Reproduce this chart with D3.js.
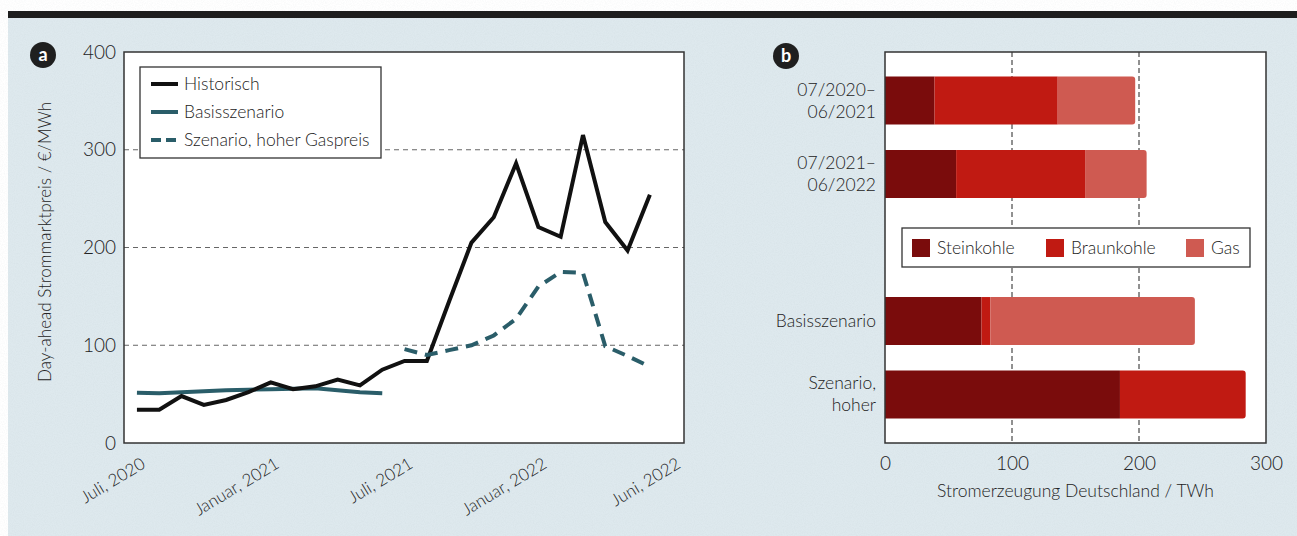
<!DOCTYPE html>
<html>
<head>
<meta charset="utf-8">
<script src="https://cdn.jsdelivr.net/npm/d3@7"></script>
<style>
  body { margin: 0; background: #fff; }
  svg text { font-family: "Lato", "Open Sans", sans-serif; font-weight: 300; fill: #222; }
</style>
</head>
<body>
<div id="chart"></div>
<script>
// Panel a: day-ahead price, monthly from Juli 2020 (index 0) to Juni 2022 (index 23)
const historisch = [34, 34, 48, 39, 44, 52, 62, 55, 58, 65, 59, 75,
                    84, 84, 145, 205, 231, 286, 221, 211, 315, 226, 197, 254]
const basisMonths = [0, 1, 2, 3, 4, 5, 6, 7, 8, 9, 10, 11]
const basisszenario = [51.5, 51, 52, 53, 54, 54.5, 55, 55.5, 56, 54, 52, 51]
const gasMonths = [12, 13, 14, 15, 16, 17, 18, 19, 20, 21, 22, 23]
const hoherGaspreis = [96, 90, 95, 100, 110, 127, 160, 175, 174, 99, 89, 78]
const xTickMonths = [0, 6, 12, 18, 24]
const xTickLabels = ["Juli, 2020", "Januar, 2021", "Juli, 2021", "Januar, 2022", "Juni, 2022"]
const yTicksA = [0, 100, 200, 300, 400]

// Panel b: power generation by source
const categories = [["07/2020–", "06/2021"], ["07/2021–", "06/2022"], ["Basisszenario"], ["Szenario,", "hoher"]]
const steinkohle = [39, 56, 76, 185]
const braunkohle = [97, 102, 7, 99]
const gas = [61, 48, 161, 0]
const sources = ["Steinkohle", "Braunkohle", "Gas"]
const xTicksB = [0, 100, 200, 300]

const colors = { Steinkohle: "#7a0c0c", Braunkohle: "#c01a12", Gas: "#cf5a51" }
const teal = "#2a5d69"

const W = 1297, H = 536

const svg = d3.select("#chart").append("svg")
    .attr("width", W).attr("height", H)

// paper texture
const defs = svg.append("defs")
const f = defs.append("filter").attr("id", "paper")
f.append("feTurbulence").attr("type", "fractalNoise").attr("baseFrequency", 0.9).attr("numOctaves", 2).attr("seed", 3)
f.append("feColorMatrix").attr("type", "matrix")
    .attr("values", "0 0 0 0 0.35  0 0 0 0 0.4  0 0 0 0 0.42  0 0 0 0.3 -0.1")

// background + top bar
svg.append("rect").attr("x", 8).attr("y", 18).attr("width", W - 8).attr("height", H - 18).attr("fill", "#dee9ee")
svg.append("rect").attr("x", 8).attr("y", 18).attr("width", W - 8).attr("height", H - 18)
    .attr("filter", "url(#paper)").attr("opacity", 0.45)
svg.append("rect").attr("x", 8).attr("y", 11).attr("width", W - 8).attr("height", 7).attr("fill", "#1e1e1e")

function badge(cx, cy, letter) {
    svg.append("circle").attr("cx", cx).attr("cy", cy).attr("r", 13).attr("fill", "#1f1f1f")
    svg.append("text").attr("x", cx).attr("y", cy + 6).attr("text-anchor", "middle")
        .style("font-size", "18px").style("font-weight", "bold").style("fill", "#fff").text(letter)
}

// ---------------- Panel a ----------------
const a = { left: 124, right: 684, top: 52, bottom: 443 }
const x = d3.scaleLinear().domain([-0.58, 24.53]).range([a.left, a.right])
const y = d3.scaleLinear().domain([0, 400]).range([a.bottom, a.top])

const ga = svg.append("g").attr("id", "panel-a")
ga.append("rect").attr("x", a.left).attr("y", a.top)
    .attr("width", a.right - a.left).attr("height", a.bottom - a.top).attr("fill", "#fff")

// grid
ga.append("g").selectAll("line").data([100, 200, 300]).enter().append("line")
    .attr("x1", a.left).attr("x2", a.right)
    .attr("y1", d => y(d)).attr("y2", d => y(d))
    .attr("stroke", "#666").attr("stroke-width", 1).attr("stroke-dasharray", "5,4")

// y axis labels
const yAxisA = d3.axisLeft(y).tickValues(yTicksA).tickSize(0).tickPadding(8)
ga.append("g").attr("transform", `translate(${a.left},0)`).call(yAxisA)
    .call(g => g.select(".domain").remove())
    .selectAll("text").style("font-size", "19px").style("font-family", null).attr("fill", null)

// x axis labels (rotated)
const xAxisA = d3.axisBottom(x).tickValues(xTickMonths).tickSize(0).tickFormat((d, i) => xTickLabels[i])
ga.append("g").attr("transform", `translate(0,${a.bottom})`).call(xAxisA)
    .call(g => g.select(".domain").remove())
    .selectAll("text")
    .attr("text-anchor", "end").attr("dy", null).attr("y", 0).attr("x", 0)
    .attr("transform", "translate(9,24) rotate(-31)")
    .style("font-size", "17px").style("font-family", null).attr("fill", null)

// y title
ga.append("text").attr("transform", "translate(51,242) rotate(-90)")
    .attr("text-anchor", "middle").style("font-size", "17px")
    .text("Day-ahead Strommarktpreis / €/MWh")

// lines
const line = d3.line().x(d => x(d[0])).y(d => y(d[1]))
ga.append("path").datum(basisMonths.map((m, i) => [m, basisszenario[i]]))
    .attr("d", line).attr("fill", "none").attr("stroke", teal).attr("stroke-width", 4)
ga.append("path").datum(historisch.map((v, i) => [i, v]))
    .attr("d", line).attr("fill", "none").attr("stroke", "#111").attr("stroke-width", 4)
    .attr("stroke-linejoin", "miter")
ga.append("path").datum(gasMonths.map((m, i) => [m, hoherGaspreis[i]]))
    .attr("d", line).attr("fill", "none").attr("stroke", teal).attr("stroke-width", 4)
    .attr("stroke-dasharray", "13,8")

// frame
ga.append("rect").attr("x", a.left).attr("y", a.top)
    .attr("width", a.right - a.left).attr("height", a.bottom - a.top)
    .attr("fill", "none").attr("stroke", "#333").attr("stroke-width", 1.5)

// legend a
const legA = ga.append("g").attr("transform", "translate(140,67)")
legA.append("rect").attr("width", 241).attr("height", 91).attr("fill", "#fff")
    .attr("stroke", "#333").attr("stroke-width", 1.3)
const legItems = [
    { label: "Historisch", color: "#111", dash: null },
    { label: "Basisszenario", color: teal, dash: null },
    { label: "Szenario, hoher Gaspreis", color: teal, dash: "10,5" }
]
legItems.forEach((d, i) => {
    const yy = 17 + i * 28
    legA.append("line").attr("x1", 11).attr("x2", 38).attr("y1", yy).attr("y2", yy)
        .attr("stroke", d.color).attr("stroke-width", 4).attr("stroke-dasharray", d.dash)
    legA.append("text").attr("x", 44).attr("y", yy + 6).style("font-size", "17.5px").text(d.label)
})

badge(43, 55, "a")

// ---------------- Panel b ----------------
const b = { left: 885, right: 1266, top: 52, bottom: 443 }
const xb = d3.scaleLinear().domain([0, 300]).range([b.left, b.right])
const bandDomain = [0, 1, "legend", 2, 3]
const yb = d3.scaleBand().domain(bandDomain).range([b.top, b.bottom])
    .paddingInner(0.348).paddingOuter(0.334)

const gb = svg.append("g").attr("id", "panel-b")
gb.append("rect").attr("x", b.left).attr("y", b.top)
    .attr("width", b.right - b.left).attr("height", b.bottom - b.top).attr("fill", "#fff")

gb.append("g").selectAll("line").data([100, 200]).enter().append("line")
    .attr("x1", d => xb(d)).attr("x2", d => xb(d))
    .attr("y1", b.top).attr("y2", b.bottom)
    .attr("stroke", "#222").attr("stroke-width", 1).attr("stroke-dasharray", "5,3")

// stacked bars
const rows = categories.map((c, i) => ({ Steinkohle: steinkohle[i], Braunkohle: braunkohle[i], Gas: gas[i], idx: i }))
const stack = d3.stack().keys(sources)(rows)

function roundedRight(x0, y0, w, h, r) {
    const p = d3.path()
    p.moveTo(x0, y0)
    p.lineTo(x0 + w - r, y0)
    p.arcTo(x0 + w, y0, x0 + w, y0 + r, r)
    p.lineTo(x0 + w, y0 + h - r)
    p.arcTo(x0 + w, y0 + h, x0 + w - r, y0 + h, r)
    p.lineTo(x0, y0 + h)
    p.closePath()
    return p.toString()
}

stack.forEach(layer => {
    gb.append("g").attr("fill", colors[layer.key])
        .selectAll("path").data(layer.filter(d => d[1] > d[0])).enter().append("path")
        .attr("d", d => {
            const isLast = d[1] === d3.sum(sources, k => d.data[k])
            return roundedRight(xb(d[0]), yb(d.data.idx), xb(d[1]) - xb(d[0]), yb.bandwidth(), isLast ? 3 : 0)
        })
})

// category labels
const catG = gb.append("g")
categories.forEach((lines, i) => {
    const cy = yb(i) + yb.bandwidth() / 2
    const t = catG.append("text").attr("text-anchor", "end").style("font-size", "17.5px")
    lines.forEach((l, j) => {
        t.append("tspan").attr("x", b.left - 9)
            .attr("y", cy + 6 + (j - (lines.length - 1) / 2) * 22).text(l)
    })
})

// x axis b
const xAxisB = d3.axisBottom(xb).tickValues(xTicksB).tickSize(0).tickPadding(14)
gb.append("g").attr("transform", `translate(0,${b.bottom})`).call(xAxisB)
    .call(g => g.select(".domain").remove())
    .selectAll("text").style("font-size", "19px").style("font-family", null).attr("fill", null)

gb.append("text").attr("x", (b.left + b.right) / 2).attr("y", 497).attr("text-anchor", "middle")
    .style("font-size", "17.5px").text("Stromerzeugung Deutschland / TWh")

gb.append("rect").attr("x", b.left).attr("y", b.top)
    .attr("width", b.right - b.left).attr("height", b.bottom - b.top)
    .attr("fill", "none").attr("stroke", "#333").attr("stroke-width", 1.5)

// legend b in the spacer band
const ly = yb("legend")
const legB = gb.append("g").attr("transform", `translate(902,${ly + yb.bandwidth() / 2 - 19.5})`)
legB.append("rect").attr("width", 348).attr("height", 39).attr("fill", "#fff")
    .attr("stroke", "#333").attr("stroke-width", 1.3)
const legBx = [10, 144, 284]
sources.forEach((s, i) => {
    legB.append("rect").attr("x", legBx[i]).attr("y", 11).attr("width", 18).attr("height", 18)
        .attr("fill", colors[s])
    legB.append("text").attr("x", legBx[i] + 25).attr("y", 26).style("font-size", "17.5px").text(s)
})

badge(786, 56, "b")
</script>
</body>
</html>
